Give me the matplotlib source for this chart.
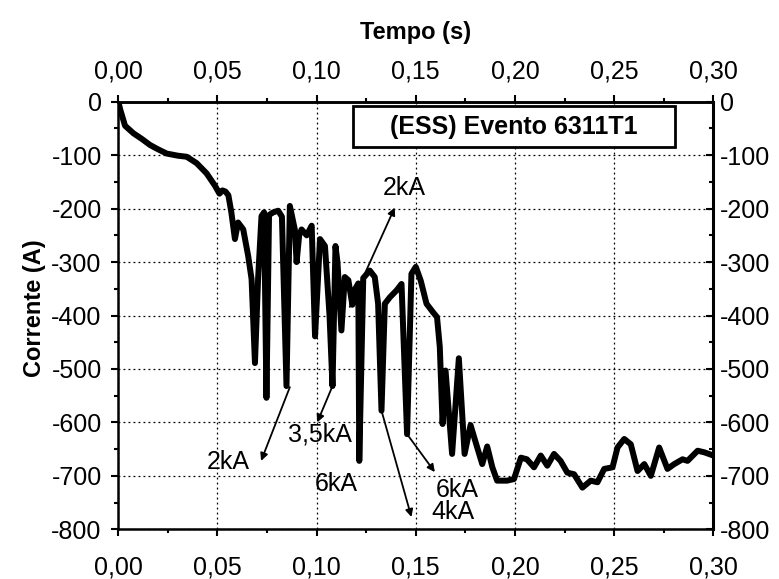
import matplotlib
matplotlib.use("Agg")
import matplotlib.pyplot as plt
from matplotlib.patches import Rectangle
from matplotlib.ticker import FixedLocator, MultipleLocator

plt.rcParams['font.family'] = ['Liberation Sans', 'DejaVu Sans']
plt.rcParams['axes.unicode_minus'] = False

# ---- data ----
tempo = [0.000, 0.001, 0.0034, 0.0076, 0.012, 0.016, 0.020, 0.0244, 0.030, 0.0345,
         0.0395, 0.0445, 0.0487, 0.051, 0.0525, 0.054, 0.0555, 0.057, 0.0588, 0.0604,
         0.063, 0.0655, 0.0672, 0.0689, 0.0705, 0.0722, 0.0735, 0.0747, 0.076, 0.0781,
         0.0806, 0.0825, 0.0848, 0.0865, 0.089, 0.0899, 0.0912, 0.0924, 0.095, 0.0975,
         0.0992, 0.1017, 0.1042, 0.1065, 0.108, 0.1095, 0.1105, 0.1125, 0.1142, 0.116,
         0.118, 0.1195, 0.121, 0.1215, 0.1235, 0.1268, 0.1293, 0.131, 0.1327, 0.1344,
         0.1369, 0.1403, 0.1428, 0.1456, 0.1478, 0.150, 0.1525, 0.1554, 0.1587, 0.1607,
         0.1621, 0.1635, 0.165, 0.1683, 0.1717, 0.1746, 0.1776, 0.180, 0.1835, 0.186,
         0.1886, 0.191, 0.196, 0.1995, 0.203, 0.206, 0.2096, 0.213, 0.2163, 0.2197,
         0.223, 0.2264, 0.2298, 0.234, 0.2382, 0.2416, 0.245, 0.2492, 0.2517, 0.2551,
         0.2584, 0.2618, 0.2652, 0.2685, 0.2727, 0.2769, 0.2803, 0.2845, 0.287, 0.2921,
         0.2955, 0.300]
corrente = [0, -15, -45, -59, -70, -81, -89, -97, -101, -103,
            -115, -134, -157, -172, -166, -168, -175, -207, -257, -226,
            -239, -289, -332, -489, -330, -214, -207, -554, -212, -207,
            -204, -215, -532, -195, -239, -300, -250, -239, -250, -232,
            -439, -257, -270, -400, -532, -270, -300, -428, -328, -334,
            -380, -350, -340, -672, -330, -316, -328, -378, -578, -378,
            -366, -353, -341, -622, -322, -309, -335, -378, -394, -403,
            -459, -603, -503, -659, -480, -659, -605, -635, -678, -645,
            -684, -709, -709, -706, -666, -669, -684, -662, -681, -659,
            -672, -694, -697, -722, -709, -712, -687, -684, -647, -631,
            -641, -691, -678, -700, -647, -687, -678, -669, -672, -653,
            -656, -662]

x_ticks = [0.00, 0.05, 0.10, 0.15, 0.20, 0.25, 0.30]
x_tick_labels = ['0,00', '0,05', '0,10', '0,15', '0,20', '0,25', '0,30']
y_ticks = [0, -100, -200, -300, -400, -500, -600, -700, -800]
y_tick_labels = ['0', '-100', '-200', '-300', '-400', '-500', '-600', '-700', '-800']

box_label = '(ESS) Evento 6311T1'
x_label = 'Tempo (s)'
y_label = 'Corrente (A)'

# annotation labels: (text, position)
annotations = [
    ('2kA', (0.1444, -162)),
    ('2kA', (0.0554, -675)),
    ('3,5kA', (0.1016, -622)),
    ('6kA', (0.1100, -715)),
    ('6kA', (0.1707, -726)),
    ('4kA', (0.1688, -767)),
]
arrows = [  # (tail, head)
    ((0.1167, -384), (0.1394, -198)),
    ((0.0865, -534), (0.0720, -672)),
    ((0.1080, -532), (0.1003, -600)),
    ((0.1327, -578), (0.1478, -777)),
    ((0.1456, -622), (0.1596, -693)),
]

# ---- figure ----
fig = plt.figure(figsize=(7.79, 5.79), dpi=100)
ax = fig.add_axes([118.3 / 779, 1 - 529.3 / 579, (713.3 - 118.3) / 779, (529.3 - 101.7) / 579])

ax.plot(tempo, corrente, color='black', lw=4.3, solid_joinstyle='round',
        solid_capstyle='round', zorder=3)

ax.set_xlim(0, 0.30)
ax.set_ylim(-800, 0)

ax.xaxis.set_major_locator(FixedLocator(x_ticks))
ax.set_xticklabels(x_tick_labels)
ax.xaxis.set_minor_locator(MultipleLocator(0.025))
ax.yaxis.set_major_locator(FixedLocator(y_ticks))
ax.set_yticklabels(y_tick_labels)
ax.yaxis.set_minor_locator(MultipleLocator(50))

ax.grid(True, which='major', color='black', linestyle=(0, (1.5, 2.5)), lw=0.9)

for s in ax.spines.values():
    s.set_linewidth(1.8)

fs = 18
ax.tick_params(axis='x', which='both', direction='out', labelsize=fs, pad=14, width=1.5)
ax.tick_params(axis='y', which='both', direction='out', labelsize=fs, pad=7, width=1.5)
ax.tick_params(which='major', length=5)
ax.tick_params(which='minor', length=3)

secx = ax.secondary_xaxis('top')
secx.xaxis.set_major_locator(FixedLocator(x_ticks))
secx.set_xticklabels(x_tick_labels)
secx.xaxis.set_minor_locator(MultipleLocator(0.025))
secx.tick_params(which='both', direction='out', labelsize=fs, pad=8, width=1.5)
secx.tick_params(which='major', length=5)
secx.tick_params(which='minor', length=3)
secx.spines['top'].set_linewidth(1.8)

secy = ax.secondary_yaxis('right')
secy.yaxis.set_major_locator(FixedLocator(y_ticks))
secy.set_yticklabels(y_tick_labels)
secy.yaxis.set_minor_locator(MultipleLocator(50))
secy.tick_params(which='both', direction='in', labelsize=fs, pad=5, width=1.5)
secy.tick_params(which='major', length=5)
secy.tick_params(which='minor', length=3)
secy.spines['right'].set_linewidth(2.2)

fig.text(416 / 779, 1 - 32 / 579, x_label, ha='center', va='center',
         fontsize=17, fontweight='bold')
fig.text(34 / 779, 1 - 308 / 579, y_label, ha='center', va='center',
         rotation=90, fontsize=17, fontweight='bold')

# label box
ax.add_patch(Rectangle((0.3945, 0.894), 0.5411, 0.096, transform=ax.transAxes,
                       facecolor='white', edgecolor='black', lw=2.0, zorder=5))
ax.text(0.665, 0.941, box_label, transform=ax.transAxes, ha='center', va='center',
        fontsize=18, fontweight='bold', zorder=6)

for txt, xy in annotations:
    ax.text(xy[0], xy[1], txt, ha='center', va='center', fontsize=18, zorder=6)

for tail, head in arrows:
    ax.annotate('', xy=head, xytext=tail,
                arrowprops=dict(arrowstyle='-|>', color='black', lw=1.3,
                                mutation_scale=11, shrinkA=0, shrinkB=0),
                zorder=6)

fig.savefig('out.png', dpi=100)
